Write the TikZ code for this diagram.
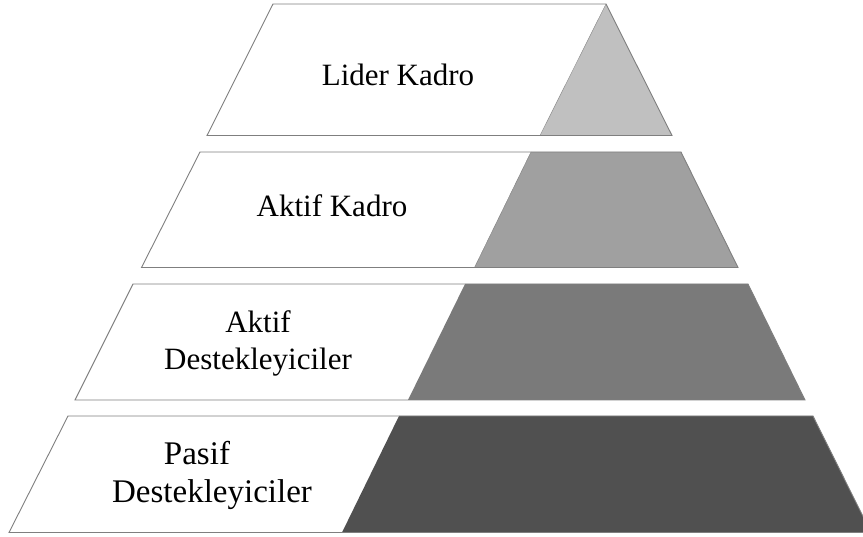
\documentclass[tikz,border=0pt]{standalone}
\usepackage{fontspec}
\setmainfont{Liberation Serif}
\definecolor{linegray}{HTML}{7F7F7F}
\definecolor{gA}{HTML}{C0C0C0}
\definecolor{gB}{HTML}{A0A0A0}
\definecolor{gC}{HTML}{7A7A7A}
\definecolor{gD}{HTML}{505050}
\begin{document}
\begin{tikzpicture}[x=1pt,y=-1pt,
  edge/.style={draw=linegray, line width=0.9pt, line join=miter},
  lbl/.style={font=\fontsize{31}{37}\selectfont, align=center, inner sep=0pt}]
\useasboundingbox (0,0) rectangle (863,537);
\clip (0,0) rectangle (863,537);
% level 1
\fill[white] (273,4) -- (606,4) -- (540,135.5) -- (207,135.5) -- cycle;
\fill[gA] (606,4) -- (672,135.5) -- (540,135.5) -- cycle;
\draw[edge] (273,4) -- (606,4) -- (672,135.5) -- (207,135.5) -- cycle;
\draw[draw=gA!70!black, line width=0.4pt] (606,4) -- (540,135.5);
% level 2
\fill[white] (200,152) -- (531,152) -- (474.5,267.5) -- (141.5,267.5) -- cycle;
\fill[gB] (531,152) -- (681,152) -- (738,267.5) -- (474.5,267.5) -- cycle;
\draw[edge] (200,152) -- (681,152) -- (738,267.5) -- (141.5,267.5) -- cycle;
\draw[draw=gB!80!black, line width=0.4pt] (531,152) -- (474.5,267.5);
% level 3
\fill[white] (133,284) -- (465,284) -- (408,400) -- (75,400) -- cycle;
\fill[gC] (465,284) -- (748,284) -- (805,400) -- (408,400) -- cycle;
\draw[edge] (133,284) -- (748,284) -- (805,400) -- (75,400) -- cycle;
% level 4
\fill[white] (68,416) -- (399,416) -- (342,532.5) -- (9,532.5) -- cycle;
\fill[gD] (399,416) -- (813,416) -- (871,532.5) -- (342,532.5) -- cycle;
\draw[edge] (68,416) -- (813,416) -- (871,532.5) -- (9,532.5) -- cycle;
% labels
\node[lbl] (t1) at (398,75) {Lider Kadro};
\node[lbl] (t2) at (332,206) {Aktif Kadro};
\node[lbl] (t3) at (258,343) {Aktif\\Destekleyiciler};
\node[lbl, font=\fontsize{33}{38}\selectfont] (t4) at (212,475) {Pasif\hspace*{30pt}\\Destekleyiciler};
\end{tikzpicture}
\end{document}
